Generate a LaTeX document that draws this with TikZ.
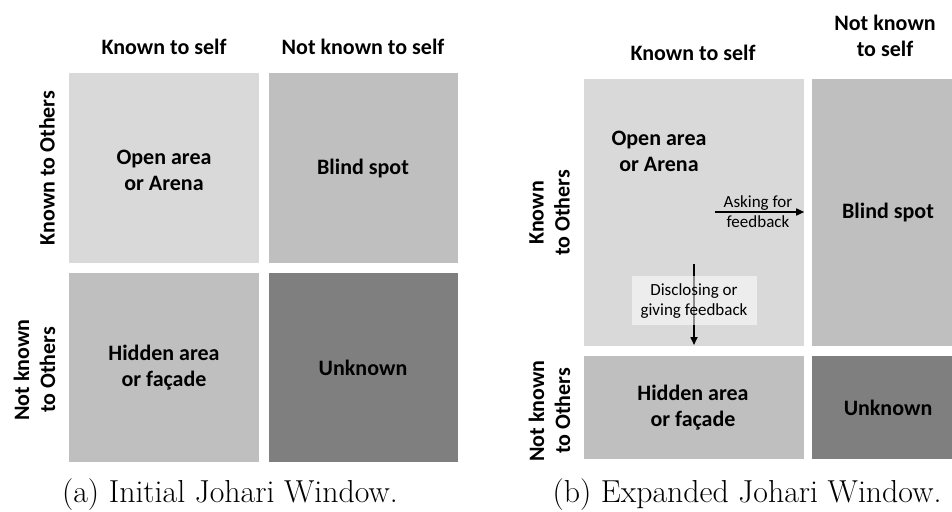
\documentclass[tikz,border=0pt]{standalone}
\usepackage{fontspec}
\newfontfamily\lblfont{Carlito}
\usetikzlibrary{arrows.meta}
\definecolor{openc}{HTML}{D9D9D9}
\definecolor{midc}{HTML}{BFBFBF}
\definecolor{darkc}{HTML}{7F7F7F}
\tikzset{
  hdr/.style={font=\lblfont\bfseries\fontsize{22}{26}\selectfont, align=center, inner sep=0pt},
  smalltxt/.style={font=\lblfont\fontsize{17}{20}\selectfont, align=center, inner sep=0pt},
  cell/.style={rectangle, draw=none, inner sep=0pt},
  captxt/.style={inner sep=0pt, font=\fontsize{31.8}{38}\selectfont},
  flow/.style={line width=1.6pt, -{Triangle[length=8pt,width=7pt]}},
}
\begin{document}
\begin{tikzpicture}[x=1pt,y=-1pt]
\useasboundingbox (0,0) rectangle (952,511);
\fill[white] (0,0) rectangle (952,511);

% ---------- (a) Initial Johari Window ----------
\node[cell, fill=openc, minimum width=190pt, minimum height=190pt] (a11) at (164,168) {};
\node[cell, fill=midc,  minimum width=189pt, minimum height=190pt] (a12) at (363.5,168) {};
\node[cell, fill=midc,  minimum width=190pt, minimum height=189pt] (a21) at (164,367.5) {};
\node[cell, fill=darkc, minimum width=189pt, minimum height=189pt] (a22) at (363.5,367.5) {};

\node[hdr] (ta11) at (164,170) {Open area\\or Arena};
\node[hdr] (ta12) at (363,169) {Blind spot};
\node[hdr] (ta21) at (164,368) {Hidden area\\or façade};
\node[hdr] (ta22) at (363,368) {Unknown};

\node[hdr] (ha1) at (164,47) {Known to self};
\node[hdr] (ha2) at (363,47) {Not known to self};
\node[hdr, rotate=90] (ra1) at (47,168) {Known to Others};
\node[hdr, rotate=90] (ra2) at (34.5,370) {Not known\\to Others};

\node[captxt] (capa) at (230,495) {(a) Initial Johari Window.};

% ---------- (b) Expanded Johari Window ----------
\node[cell, fill=openc, minimum width=220pt, minimum height=267pt] (b11) at (694,212.5) {};
\node[cell, fill=midc,  minimum width=140pt, minimum height=267pt] (b12) at (882,212.5) {};
\node[cell, fill=midc,  minimum width=220pt, minimum height=103pt] (b21) at (694,407.5) {};
\node[cell, fill=darkc, minimum width=140pt, minimum height=103pt] (b22) at (882,407.5) {};

\node[hdr] (tb11) at (659,151) {Open area\\or Arena};
\node[hdr] (tb12) at (888,213) {Blind spot};
\node[hdr] (tb21) at (693,408) {Hidden area\\or façade};
\node[hdr] (tb22) at (888,408) {Unknown};

\node[hdr] (hb1) at (693,53) {Known to self};
\node[hdr] (hb2) at (885,35.5) {Not known\\to self};
\node[hdr, rotate=90] (rb1) at (549.5,213) {Known\\to Others};
\node[hdr, rotate=90] (rb2) at (549.5,411) {Not known\\to Others};

% asking for feedback
\coordinate (askS) at (715,212);
\draw[flow] (askS) -- (askS -| b11.east);
\node[smalltxt] (ask) at (758,212) {Asking for\\feedback};

% disclosing
\coordinate (discS) at (694,264);
\coordinate (discE) at (694,345);
\draw[flow] (discS) -- (discE);
\node[rectangle, fill=white, fill opacity=0.55, text opacity=1, minimum width=125pt, minimum height=49pt, inner sep=0pt] (discbox) at (694.5,300.5) {};
\node[smalltxt] (disc) at (694,301) {Disclosing or\\giving feedback};

\node[captxt] (capb) at (747,495) {(b) Expanded Johari Window.};
\end{tikzpicture}
\end{document}
